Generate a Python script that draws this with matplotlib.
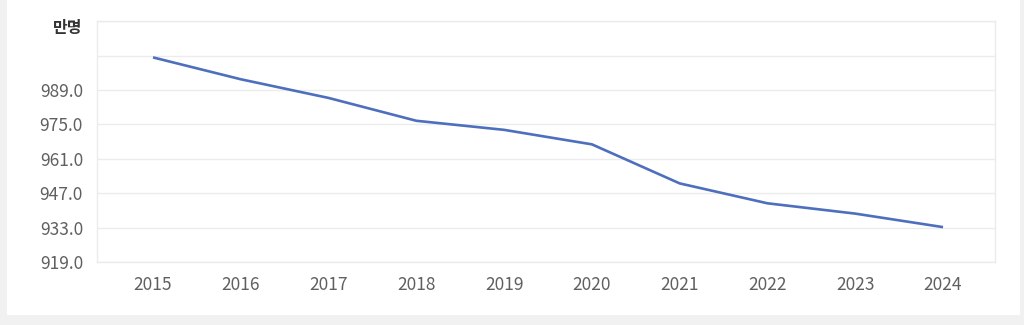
import matplotlib
matplotlib.use("Agg")
import matplotlib.pyplot as plt
from matplotlib.patches import Rectangle

plt.rcParams['font.family'] = ['Noto Sans CJK KR', 'DejaVu Sans']

# Population (unit: 만명)
years = ['2015', '2016', '2017', '2018', '2019', '2020', '2021', '2022', '2023', '2024']
population = [1002.3, 993.4, 985.8, 976.5, 972.8, 966.9, 951.0, 942.9, 938.7, 933.2]

y_ticks = [919, 933, 947, 961, 975, 989, 1003, 1017]
y_labels = ['919.0', '933.0', '947.0', '961.0', '975.0', '989.0', '', '']

fig = plt.figure(figsize=(10.24, 3.25), dpi=100, facecolor='#f1f1f1')
# white card behind the chart
fig.patches.append(Rectangle((7 / 1024, 10 / 325), 1013 / 1024, 315 / 325,
                             transform=fig.transFigure, facecolor='white',
                             edgecolor='none', zorder=-10))

ax = fig.add_axes([97 / 1024, 63 / 325, 898 / 1024, 240.7 / 325])
ax.set_zorder(1)
ax.set_facecolor('white')

x = list(range(len(years)))
ax.plot(x, population, color='#4d6fbe', linewidth=1.9,
        solid_joinstyle='round', solid_capstyle='butt', zorder=3)

ax.set_xlim(-0.638, 9.592)
ax.set_ylim(919, 1017)
ax.set_xticks(x)
ax.set_xticklabels(years)
ax.set_yticks(y_ticks)
ax.set_yticklabels(y_labels)

ax.tick_params(axis='both', length=0, labelsize=12.5, labelcolor='#606060')
ax.tick_params(axis='x', pad=10)
ax.tick_params(axis='y', pad=10)

ax.grid(axis='y', color='#ececec', linewidth=1.0, zorder=0)
ax.grid(axis='x', visible=False)
for side in ('left', 'right', 'top', 'bottom'):
    ax.spines[side].set_color('#ebebeb')
    ax.spines[side].set_linewidth(1.0)

fig.text(82 / 1024, 1 - 28 / 325, '만명', ha='right', va='center',
         fontsize=11.5, fontweight='bold', color='#333333', zorder=2)

fig.savefig('out.png', dpi=100, facecolor=fig.get_facecolor())
